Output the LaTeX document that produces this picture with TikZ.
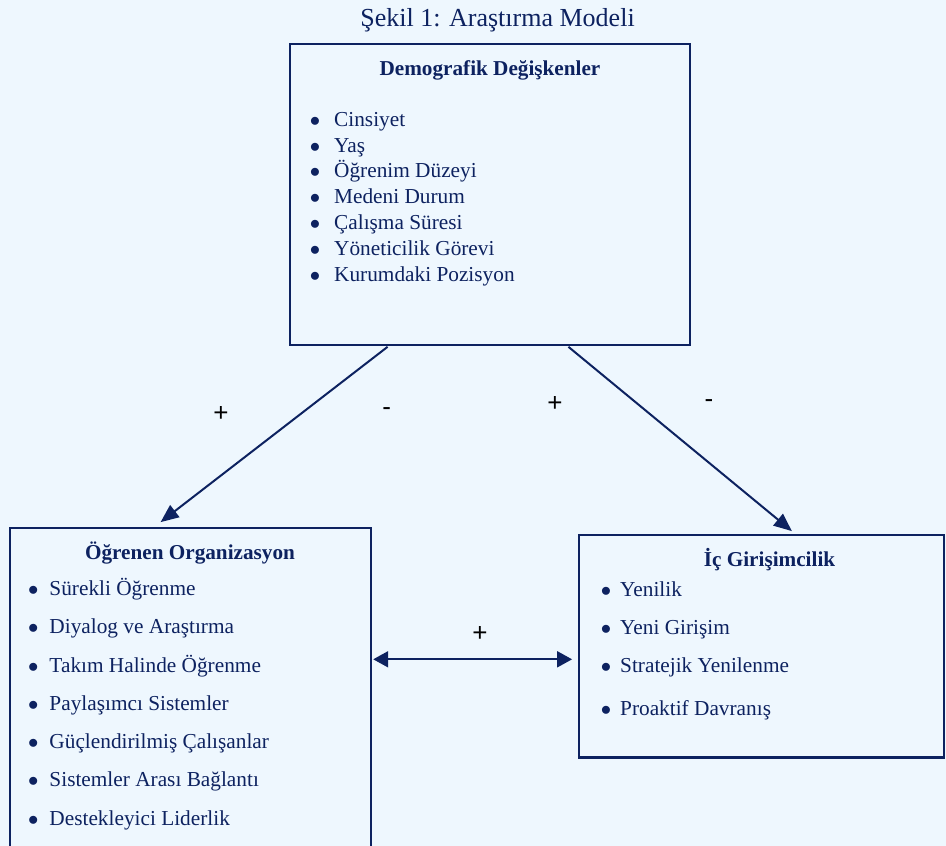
\documentclass[tikz,border=0pt]{standalone}
\usepackage{fontspec}
\setmainfont{Liberation Serif}
\newfontfamily\signfont{Liberation Sans}
\usepackage{tikz}
\usetikzlibrary{arrows.meta,positioning,calc}

\definecolor{navy}{RGB}{13,34,96}
\definecolor{paleblue}{RGB}{238,247,254}

\newcommand{\bul}[2][18pt]{\makebox[#1][l]{$\bullet$}#2}

\begin{document}
\begin{tikzpicture}[
  x=1pt, y=-1pt,
  box/.style={draw=navy, line width=2.4pt, inner sep=0pt},
  head/.style={font=\fontsize{21.2}{25}\selectfont\bfseries, text=navy, anchor=base},
  list/.style={align=left, text=navy, inner sep=0pt, anchor=north west},
  sign/.style={font=\signfont\fontsize{26}{28}\selectfont, inner sep=0pt},
  arr/.style={-{Triangle[length=18pt,width=15pt]}, draw=navy, line width=2pt},
  dblarr/.style={{Triangle[length=15pt,width=16pt]}-{Triangle[length=15pt,width=16pt]}, draw=navy, line width=2pt}
]
  \fill[paleblue] (0,0) rectangle (946,846);
  \useasboundingbox (0,0) rectangle (946,846);
  \clip (0,0) rectangle (946,846);

  \node[text=navy, font=\fontsize{26}{30}\selectfont, anchor=base] (title) at (497.5,26) {Şekil 1: Araştırma Modeli};

  % the three boxes
  \node[box, minimum width=400pt, minimum height=301pt] (demo) at (490,194.5) {};
  \node[box, minimum width=361pt, minimum height=340pt] (ogren) at (190.5,698) {};
  \node[box, minimum width=365pt, minimum height=222.7pt] (icgir) at (761.5,646.3) {};

  \node[head] (demohead) at (490,75) {Demografik Değişkenler};
  \node[head] (ogrenhead) at (190,559) {Öğrenen Organizasyon};
  \node[head] (icgirhead) at (769.5,566) {İç Girişimcilik};

  \node[list, font=\fontsize{21.3}{25.8}\selectfont] (demolist) at (309.7,110)
    {\rule{0pt}{16pt}\bul[24.3pt]{Cinsiyet}\\ \bul[24.3pt]{Yaş}\\ \bul[24.3pt]{Öğrenim Düzeyi}\\
     \bul[24.3pt]{Medeni Durum}\\ \bul[24.3pt]{Çalışma Süresi}\\ \bul[24.3pt]{Yöneticilik Görevi}\\
     \bul[24.3pt]{Kurumdaki Pozisyon}};
  \node[list, font=\fontsize{21.3}{38.3}\selectfont] (ogrenlist) at (28,578)
    {\rule{0pt}{16pt}\bul[21.3pt]{Sürekli Öğrenme}\\ \bul[21.3pt]{Diyalog ve Araştırma}\\
     \bul[21.3pt]{Takım Halinde Öğrenme}\\ \bul[21.3pt]{Paylaşımcı Sistemler}\\
     \bul[21.3pt]{Güçlendirilmiş Çalışanlar}\\ \bul[21.3pt]{Sistemler Arası Bağlantı}\\
     \bul[21.3pt]{Destekleyici Liderlik}};
  \node[list, font=\fontsize{21.3}{38}\selectfont] (icgirlist) at (600.7,580)
    {\rule{0pt}{16pt}\bul[19.3pt]{Yenilik}\\ \bul[19.3pt]{Yeni Girişim}\\
     \bul[19.3pt]{Stratejik Yenilenme}\\[5.3pt] \bul[19.3pt]{Proaktif Davranış}};

  \node[sign] (plusa) at (221,414) {+};
  \node[sign] (minusa) at (386.7,412) {-};
  \node[sign] (plusb) at (555,404) {+};
  \node[sign] (minusb) at (709,404) {-};
  \node[sign] (plusc) at (480,634) {+};

  \coordinate (link) at (475,659.3);

  \draw[arr, shorten <=1pt, shorten >=7.7pt] ($(demo.south west)!.2475!(demo.south east)$) -- ($(ogren.north west)!.401!(ogren.north east)$);
  \draw[arr, shorten <=1pt, shorten >=4.2pt] ($(demo.south west)!.693!(demo.south east)$) -- ($(icgir.north west)!.5915!(icgir.north east)$);
  \draw[dblarr, shorten <=1pt, shorten >=5.7pt] (ogren.east |- link) -- (icgir.west |- link);
\end{tikzpicture}
\end{document}
